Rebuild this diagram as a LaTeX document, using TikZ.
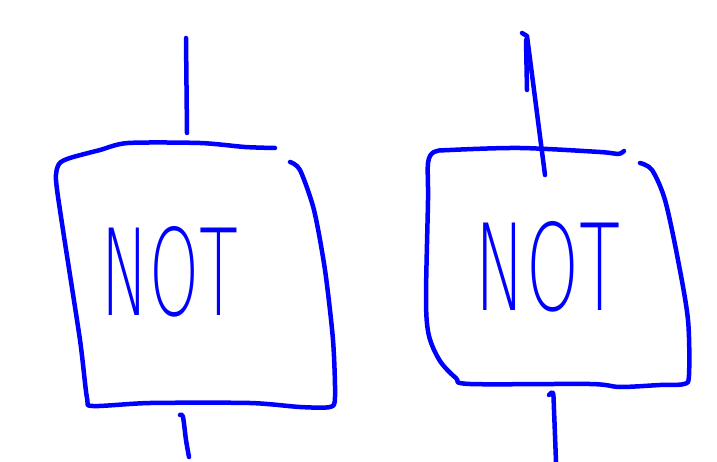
\documentclass[tikz,border=0pt]{standalone}
\usepackage{fontspec}
\newfontfamily\handfont{DejaVu Sans ExtraLight}
\begin{document}
\begin{tikzpicture}[x=1pt,y=-1pt,
  ink/.style={draw=blue, line width=4.5pt, line cap=round, line join=round},
  label/.style={text=blue, font=\handfont\fontsize{120}{120}\selectfont, anchor=base, inner sep=0pt}]
\useasboundingbox (0,0) rectangle (717,462);
% left gate
\draw[ink] plot[smooth, tension=0.45] coordinates {(290,162)(300,170)(314,210)(325,270)(333,340)(335,397)(330,407)(300,407)(250,403)(150,403)(93,406)(87,398)(80,340)(63,230)(56,180)(59,164)(70,158)(100,150)(128,143)(200,143)(245,147)(275,148)};
\draw[ink] (186,38) -- (187,133);
\draw[ink] plot[smooth, tension=0.5] coordinates {(180,415)(183,417)(186,440)(189,457)};
\node[label, xscale=0.53] (gateA) at (170,315) {NOT};
% right gate
\draw[ink] plot[smooth, tension=0.5] coordinates {(640,163)(652,170)(665,200)(678,260)(688,320)(689,375)(684,384)(660,385)(620,387)(590,384)(470,384)(456,378)(440,361)(429,336)(426,300)(428,200)(428,163)(434,152)(450,150)(520,148)(600,152)(618,154)(624,151)};
\draw[ink] (522,33) -- (527,36) -- (545,175);
\draw[ink] (526,40) -- (527,90);
\draw[ink] plot[smooth, tension=0.5] coordinates {(549,395)(553,393)(554,410)(556,462)};
\node[label, xscale=0.56] (gateB) at (548,310) {NOT};
\end{tikzpicture}
\end{document}
